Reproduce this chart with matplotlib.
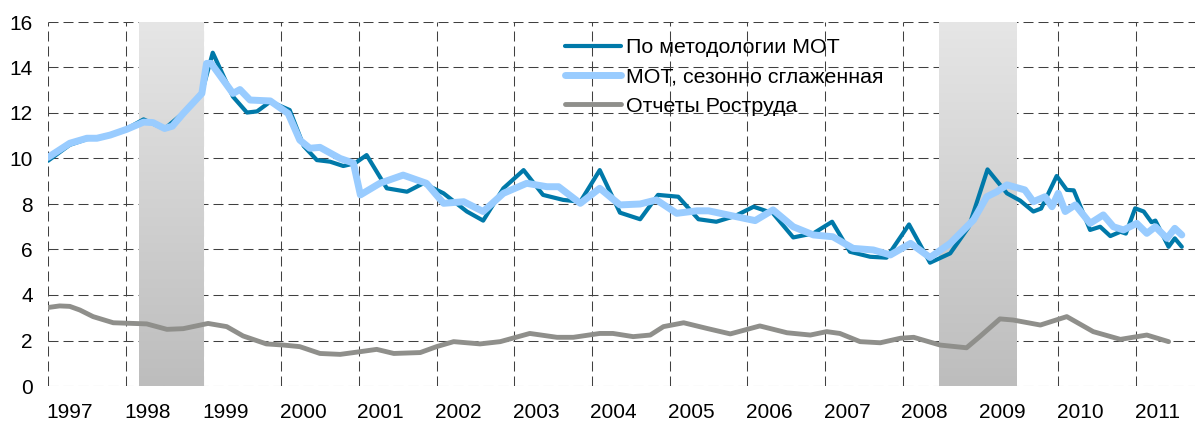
#!/usr/bin/env python3
"""
Безработица: по методологии МОТ и по отчетам Роструда
"""

import matplotlib
matplotlib.use('Agg')
import matplotlib.pyplot as plt
from matplotlib.ticker import MultipleLocator, FixedLocator
from matplotlib.patches import Rectangle
import numpy as np

# --- данные (год в долях, значение, %) ---
ilo_t = [1997.0, 1997.28, 1997.5, 1997.63, 1997.8, 1998.01, 1998.23, 1998.5, 1998.74, 1998.98,
         1999.12, 1999.38, 1999.56, 1999.69, 1999.86, 2000.11, 2000.29, 2000.46, 2000.63, 2000.8,
         2000.95, 2001.1, 2001.36, 2001.62, 2001.83, 2002.09, 2002.39, 2002.6, 2002.86, 2003.12,
         2003.37, 2003.63, 2003.85, 2004.1, 2004.36, 2004.62, 2004.85, 2005.11, 2005.37, 2005.6,
         2005.84, 2006.08, 2006.33, 2006.59, 2006.85, 2007.09, 2007.32, 2007.58, 2007.79, 2008.08,
         2008.35, 2008.61, 2008.85, 2009.09, 2009.34, 2009.51, 2009.68, 2009.78, 2009.98, 2010.11,
         2010.2, 2010.41, 2010.54, 2010.67, 2010.8, 2010.87, 2010.99, 2011.1, 2011.2, 2011.25,
         2011.42, 2011.5, 2011.59]
ilo_v = [9.9, 10.6, 10.85, 10.9, 11.05, 11.3, 11.72, 11.3, 12.0, 12.9,
         14.65, 12.72, 12.02, 12.07, 12.5, 12.13, 10.55, 9.93, 9.86, 9.67,
         9.79, 10.15, 8.69, 8.54, 8.91, 8.47, 7.67, 7.27, 8.69, 9.49,
         8.4, 8.18, 8.1, 9.49, 7.62, 7.33, 8.4, 8.32, 7.33, 7.22,
         7.47, 7.88, 7.59, 6.53, 6.71, 7.22, 5.9, 5.68, 5.64, 7.1,
         5.42, 5.83, 7.0, 9.52, 8.47, 8.15, 7.67, 7.8, 9.23, 8.62,
         8.6, 6.86, 7.0, 6.59, 6.78, 6.7, 7.81, 7.67, 7.2, 7.27,
         6.12, 6.49, 6.12]

sa_t = [1997.0, 1997.28, 1997.5, 1997.63, 1997.8, 1998.01, 1998.23, 1998.35, 1998.5, 1998.6,
        1998.74, 1998.98, 1999.04, 1999.1, 1999.24, 1999.38, 1999.47, 1999.6, 1999.86, 2000.09,
        2000.24, 2000.37, 2000.5, 2000.76, 2000.93, 2001.02, 2001.27, 2001.57, 2001.87, 2002.09,
        2002.35, 2002.6, 2002.86, 2003.16, 2003.42, 2003.57, 2003.85, 2004.1, 2004.36, 2004.62,
        2004.83, 2005.09, 2005.35, 2005.5, 2005.82, 2006.1, 2006.33, 2006.59, 2006.85, 2007.1,
        2007.36, 2007.62, 2007.84, 2008.1, 2008.35, 2008.61, 2008.91, 2009.08, 2009.21, 2009.34,
        2009.57, 2009.68, 2009.83, 2009.92, 2010.0, 2010.09, 2010.22, 2010.41, 2010.58, 2010.71,
        2010.84, 2011.01, 2011.14, 2011.25, 2011.4, 2011.5, 2011.59]
sa_v = [10.05, 10.67, 10.89, 10.89, 11.03, 11.28, 11.6, 11.58, 11.32, 11.42,
        11.98, 12.86, 14.18, 14.18, 13.52, 12.86, 13.03, 12.57, 12.53, 11.98,
        10.81, 10.45, 10.49, 10.0, 9.8, 8.4, 8.91, 9.27, 8.91, 8.03,
        8.1, 7.67, 8.47, 8.91, 8.76, 8.76, 8.03, 8.69, 7.96, 8.0,
        8.18, 7.59, 7.7, 7.7, 7.47, 7.27, 7.74, 7.0, 6.64, 6.56,
        6.05, 5.98, 5.76, 6.27, 5.65, 6.27, 7.3, 8.32, 8.54, 8.84,
        8.62, 8.1, 8.32, 7.88, 8.47, 7.67, 7.96, 7.15, 7.52, 7.0,
        6.86, 7.15, 6.71, 7.0, 6.49, 6.93, 6.64]

rst_t = [1997.0, 1997.15, 1997.28, 1997.41, 1997.58, 1997.84, 1998.27, 1998.53, 1998.74, 1999.06,
         1999.3, 1999.51, 1999.81, 2000.03, 2000.24, 2000.5, 2000.76, 2001.02, 2001.23, 2001.45,
         2001.79, 2002.0, 2002.22, 2002.56, 2002.82, 2003.2, 2003.55, 2003.76, 2004.1, 2004.27,
         2004.53, 2004.75, 2004.92, 2005.18, 2005.48, 2005.78, 2006.16, 2006.51, 2006.81, 2007.02,
         2007.19, 2007.45, 2007.71, 2007.97, 2008.14, 2008.48, 2008.82, 2008.99, 2009.25, 2009.42,
         2009.77, 2010.11, 2010.45, 2010.8, 2011.14, 2011.42]
rst_v = [3.45, 3.52, 3.5, 3.34, 3.05, 2.78, 2.73, 2.49, 2.52, 2.75,
         2.61, 2.2, 1.85, 1.8, 1.73, 1.43, 1.39, 1.51, 1.61, 1.43,
         1.47, 1.73, 1.95, 1.85, 1.95, 2.31, 2.14, 2.14, 2.31, 2.31,
         2.17, 2.24, 2.61, 2.78, 2.53, 2.29, 2.64, 2.34, 2.24, 2.39,
         2.31, 1.95, 1.9, 2.1, 2.14, 1.8, 1.68, 2.17, 2.95, 2.9,
         2.68, 3.05, 2.39, 2.05, 2.24, 1.95]

# периоды кризисов (затенение)
crisis = [(1998.17, 1999.0), (2008.47, 2009.47)]

years = list(range(1997, 2012))
labels = ['По методологии МОТ', 'МОТ, сезонно сглаженная', 'Отчеты Роструда']


def main():
    plt.rcParams['font.family'] = ['Liberation Sans', 'DejaVu Sans']
    plt.rcParams['font.size'] = 15
    plt.rcParams['lines.scale_dashes'] = False

    W, H = 1200, 423
    fig = plt.figure(figsize=(12, 4.23), dpi=100)
    ax = fig.add_axes([48 / W, 1 - 386 / H, (1195 - 48) / W, (386 - 22) / H])

    # затенение с градиентом
    grad = np.linspace(0, 1, 256).reshape(-1, 1)
    cmap = matplotlib.colors.LinearSegmentedColormap.from_list('g', ['#e6e6e6', '#bdbdbd'])
    for x0, x1 in crisis:
        ax.imshow(grad, extent=(x0, x1, 0, 16), aspect='auto', origin='upper',
                  cmap=cmap, zorder=1.5, interpolation='bilinear')

    ax.plot(ilo_t, ilo_v, color='#0079a9', lw=3.0, solid_joinstyle='round',
            solid_capstyle='round', label=labels[0], zorder=3)
    ax.plot(sa_t, sa_v, color='#99ccff', lw=5.0, solid_joinstyle='round',
            solid_capstyle='round', label=labels[1], zorder=4)
    ax.plot(rst_t, rst_v, color='#8f8f8b', lw=3.5, solid_joinstyle='round',
            solid_capstyle='round', label=labels[2], zorder=3)

    ax.set_xlim(1997.0, 2011.76)
    ax.set_ylim(0, 16)

    # сетка
    ax.xaxis.set_major_locator(FixedLocator(years))
    ax.xaxis.set_minor_locator(FixedLocator([y + 0.28 for y in years]))
    ax.xaxis.set_major_formatter(plt.NullFormatter())
    ax.xaxis.set_minor_formatter(plt.FixedFormatter([str(y) for y in years]))
    ax.yaxis.set_major_locator(MultipleLocator(2))
    ax.grid(True, which='major', color='#404040', lw=0.75,
            linestyle=(0, (7.2, 3.6)), zorder=1)
    ax.set_axisbelow(True)
    ax.tick_params(axis='x', which='both', length=0, pad=12, labelsize=15)
    ax.tick_params(axis='y', length=0, pad=11, labelsize=15)
    for s in ax.spines.values():
        s.set_visible(False)

    # белая подложка легенды (закрывает сетку)
    fig.add_artist(Rectangle((533 / W, 1 - 128 / H), (913 - 533) / W, 100 / H,
                             transform=fig.transFigure, facecolor='white',
                             edgecolor='none', zorder=1.2))
    ax.set_zorder(2)
    ax.patch.set_visible(False)

    leg = ax.legend(loc='upper left', bbox_to_anchor=(565 / W, 1 - 38 / H),
                    bbox_transform=fig.transFigure, frameon=False,
                    handlelength=2.6, handletextpad=0.25, labelspacing=0.49,
                    borderaxespad=0, borderpad=0, fontsize=15.4)
    leg.set_zorder(5)

    fig.savefig('out.png', dpi=100, facecolor='white')


if __name__ == '__main__':
    main()
